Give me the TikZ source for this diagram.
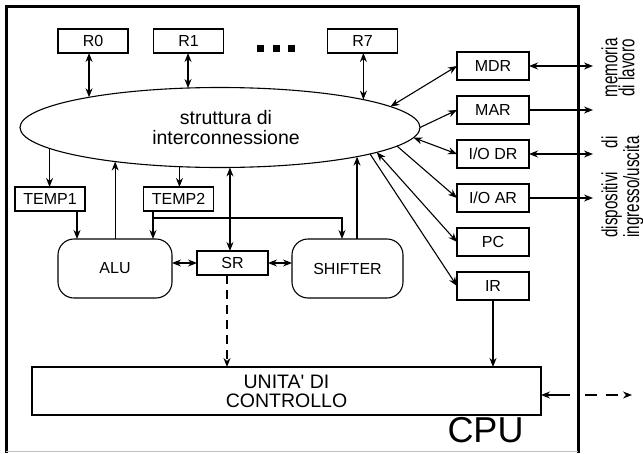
\documentclass[tikz,border=0pt]{standalone}
\usepackage{fontspec}
\usepackage{calc}
\usepackage{graphicx}
\newfontfamily\arial{Liberation Sans}
\usetikzlibrary{arrows.meta,shapes.geometric}

\newcommand{\narrow}[1]{\scalebox{0.69}[1]{#1}}

\tikzset{
  boxfont/.style={font=\arial\fontsize{16}{18}\selectfont},
  reg/.style={draw, boxfont, minimum width=70pt, minimum height=24pt,
    inner sep=0pt, outer sep=0pt},
  regwide/.style={reg, minimum width=72pt, minimum height=28pt},
  unit/.style={draw, boxfont, rounded corners=16pt, minimum height=59pt,
    inner sep=0pt, outer sep=0pt},
  sidelabel/.style={rotate=90, anchor=north, align=center, inner sep=0pt,
    font=\arial\fontsize{22}{17}\selectfont},
  dashline/.style={dash pattern=on 9pt off 6pt},
}

\begin{document}
\begin{tikzpicture}[x=1pt, y=-1pt, line width=1.1pt,
    >={Stealth[length=9pt,width=7pt]}]
\useasboundingbox (0,0) rectangle (643,453);

% CPU frame
\draw[line width=3pt] (6,453) -- (6,6) -- (578,6) -- (578,453);
\draw[gray!50, line width=0.8pt] (6,451.3) -- (578,451.3);
\node[font=\arial\fontsize{36}{40}\selectfont, inner sep=0pt] (cpu) at (485.5,430.5) {CPU};

% general-purpose registers
\node[reg] (R0) at (93,41) {R0};
\node[reg] (R1) at (188.5,41) {R1};
\node[reg] (R7) at (362.5,41) {R7};
\fill (257,45) rectangle (263.5,51.5);
\fill (273,45) rectangle (279.5,51.5);
\fill (288,45) rectangle (294.5,51.5);

% interconnection bus
\node[ellipse, draw, minimum width=400pt, minimum height=80pt,
  inner sep=0pt, outer sep=0pt,
  label={[font=\arial\fontsize{19.5}{19.5}\selectfont, align=center, xshift=6pt]center:struttura di\\interconnessione}]
  (bus) at (220,127.5) {};

% datapath
\node[reg] (T1) at (50,199) {TEMP1};
\node[reg] (T2) at (178.5,199) {TEMP2};
\node[unit, minimum width=114pt] (ALU) at (115,268.5) {ALU};
\node[unit, minimum width=111pt] (SH) at (347.5,268.5) {SHIFTER};
\node[reg, minimum width=71pt] (SR) at (232.5,263) {SR};

% control unit
\node[draw, minimum width=509pt, minimum height=48pt, inner sep=0pt, outer sep=0pt,
  align=center, font=\arial\fontsize{19.5}{19}\selectfont] (CU) at (286.5,391) {UNITA' DI\\CONTROLLO};

% special registers
\node[regwide] (MDR) at (493,66) {MDR};
\node[regwide] (MAR) at (493,110) {MAR};
\node[regwide] (IODR) at (493,154) {I/O DR};
\node[regwide] (IOAR) at (493,198) {I/O AR};
\node[regwide] (PC) at (493,242) {PC};
\node[regwide] (IR) at (493,286) {IR};

% external destinations
\node[sidelabel] (mem) at (601,68) {\narrow{memoria}\\\narrow{di lavoro}};
\node[sidelabel] (io) at (601,187)
  {\narrow{\makebox[\widthof{ingresso/uscita}][s]{dispositivi di}}\\\narrow{ingresso/uscita}};

% registers <-> bus
\draw[<->] (R0.south -| bus.167) -- (bus.167);
\draw[<->] (R1.south -| bus.129) -- (bus.129);
\draw[<->] (R7.south -| bus.11) -- (bus.11);

% bus <-> datapath
\draw[->] (bus.187) -- (T1.north -| bus.187);
\draw[->] (ALU.north -| bus.198) -- (bus.198);
\draw[->] (bus.224) -- (T2.north -| bus.224);
\draw[<->] (bus.-76) -- (SR.north -| bus.-76);
\draw[->] (SH.north -| bus.-12) -- (bus.-12);

\coordinate (t1x) at (77,211);
\draw[->] (T1.south -| t1x) -- (ALU.north -| t1x);
\coordinate (t2x) at (153,218);
\draw[->] (T2.south -| t2x) -- (ALU.north -| t2x);
\coordinate (shx) at (342,218);
\draw[->] (t2x) -- (shx) -- (SH.north -| shx);

\draw[<->] (ALU.east |- SR.west) -- (SR.west);
\draw[<->] (SR.east) -- (SH.west |- SR.east);

\coordinate (srx) at (227,275);
\draw[->, dashline] (SR.south -| srx) -- (CU.north -| srx);

% bus <-> special registers
\draw[<->] (bus.7) -- (MDR.west);
\draw[->] (bus.0) -- (MAR.west);
\draw[<->] (bus.-3) -- (IODR.west);
\draw[->] (bus.-6) -- (IOAR.west);
\draw[<->] (bus.-9) -- (PC.west);
\draw[->] (bus.-10) -- (IR.west);
\draw[->] (IR.south) -- (CU.north -| IR.south);

% links leaving the CPU
\coordinate (ox) at (593,0);
\draw[<->] (MDR.east) -- (MDR.east -| ox);
\draw[->] (MAR.east) -- (MAR.east -| ox);
\draw[<->] (IODR.east) -- (IODR.east -| ox);
\draw[->] (IOAR.east) -- (IOAR.east -| ox);

\coordinate (cin) at (570,395);
\coordinate (cout) at (585,395);
\coordinate (cend) at (632,395);
\draw[->] (cin) -- (cin -| CU.east);
\draw[->, dash pattern=on 12pt off 9pt] (cout) -- (cend);
\end{tikzpicture}
\end{document}
